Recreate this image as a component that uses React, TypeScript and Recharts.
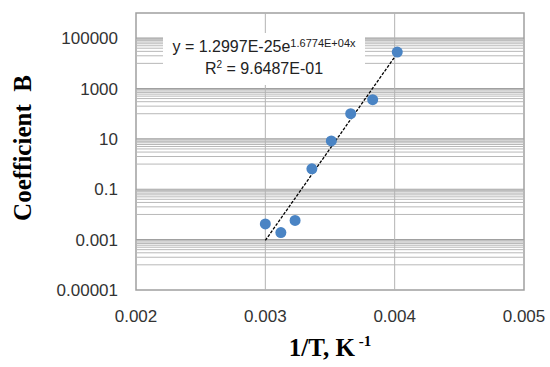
import { ScatterChart, Scatter, XAxis, YAxis, ReferenceLine, ReferenceArea } from 'recharts';

const invT = [0.003, 0.00312, 0.00323, 0.00336, 0.00351, 0.00366, 0.00383, 0.00402];
const coefB = [0.0042, 0.0019, 0.0058, 0.65, 8.3, 100, 360, 28000];

const trendX = [0.003, 0.00402];
const trendY = [0.00093, 25000];

const xTicks = [0.002, 0.003, 0.004, 0.005];
const yTicks = [0.00001, 0.001, 0.1, 10, 1000, 100000];
const yTickLabels = ['0.00001', '0.001', '0.1', '10', '1000', '100000'];

const points = invT.map((x, i) => ({ x, y: coefB[i] }));
const trend = trendX.map((x, i) => ({ x, y: trendY[i] }));

// minor gridlines: m x 10^d (m = 1..9) for even decades, major at the labelled ticks
const minorDecades = [-4, -2, 0, 2, 4];
const gridMinor: number[] = [];
minorDecades.forEach((d) => {
  for (let m = 1; m < 10; m++) gridMinor.push(m * Math.pow(10, d));
});

const tickFont = { fontFamily: 'Liberation Sans', fontSize: 17, fill: '#333' };

export default function App() {
  return (
    <div style={{ position: 'absolute', left: 0, top: 0, width: 550, height: 367, background: '#fff' }}>
      <ScatterChart width={550} height={367} margin={{ top: 13, right: 26, bottom: 47, left: 76 }}>
        <XAxis
          type="number"
          dataKey="x"
          domain={[0.002, 0.005]}
          ticks={xTicks}
          tickFormatter={(v) => v.toFixed(3)}
          tick={tickFont}
          tickLine={false}
          axisLine={false}
          tickSize={0}
          tickMargin={20}
          height={30}
          interval={0}
          allowDataOverflow
        />
        <YAxis
          type="number"
          dataKey="y"
          scale="log"
          domain={[0.00001, 1000000]}
          ticks={yTicks}
          tickFormatter={(v) => yTickLabels[yTicks.indexOf(v)] ?? ''}
          tick={tickFont}
          tickLine={false}
          axisLine={false}
          tickSize={0}
          tickMargin={18}
          width={60}
          interval={0}
          allowDataOverflow
        />
        {gridMinor.map((v) => (
          <ReferenceLine key={v} y={v} stroke="#b8b8b8" strokeWidth={1} />
        ))}
        {yTicks.slice(1).map((v) => (
          <ReferenceLine key={'M' + v} y={v} stroke="#a0a0a0" strokeWidth={1.2} />
        ))}
        <ReferenceLine x={0.003} stroke="#b4b4b4" />
        <ReferenceLine x={0.004} stroke="#b4b4b4" />
        <ReferenceArea x1={0.002} x2={0.005} y1={0.00001} y2={1000000} fill="none" stroke="#a0a0a0" strokeWidth={1.5} />
        <Scatter
          data={trend}
          isAnimationActive={false}
          line={{ stroke: '#000', strokeWidth: 1.3, strokeDasharray: '3 1.5' }}
          shape={() => <g />}
        />
        <Scatter
          data={points}
          isAnimationActive={false}
          shape={(p: any) => <circle cx={p.cx} cy={p.cy} r={5.5} fill="#4a84c4" />}
        />
        <text
          transform="translate(31,148) rotate(-90)"
          textAnchor="middle"
          style={{ fontFamily: 'Liberation Serif', fontWeight: 'bold', fontSize: 25, whiteSpace: 'pre' }}
          fill="#000"
        >
          {'Coefficient  B'}
        </text>
        <text
          x={330}
          y={356}
          textAnchor="middle"
          style={{ fontFamily: 'Liberation Serif', fontWeight: 'bold', fontSize: 25 }}
          fill="#000"
        >
          1/T, K
          <tspan fontSize={15} dy={-10}> -1</tspan>
        </text>
      </ScatterChart>
      <div
        style={{
          position: 'absolute',
          left: 163,
          top: 33,
          width: 202,
          height: 52,
          background: '#fff',
          textAlign: 'center',
          fontFamily: 'Liberation Sans',
          fontSize: 16,
          lineHeight: '22px',
          color: '#222',
          paddingTop: 3,
          boxSizing: 'border-box',
        }}
      >
        <div>
          y = 1.2997E-25e<sup style={{ fontSize: 11, verticalAlign: 'top', lineHeight: '14px' }}>1.6774E+04x</sup>
        </div>
        <div>
          R<sup style={{ fontSize: 10, verticalAlign: 'top', lineHeight: '14px' }}>2</sup> = 9.6487E-01
        </div>
      </div>
    </div>
  );
}
